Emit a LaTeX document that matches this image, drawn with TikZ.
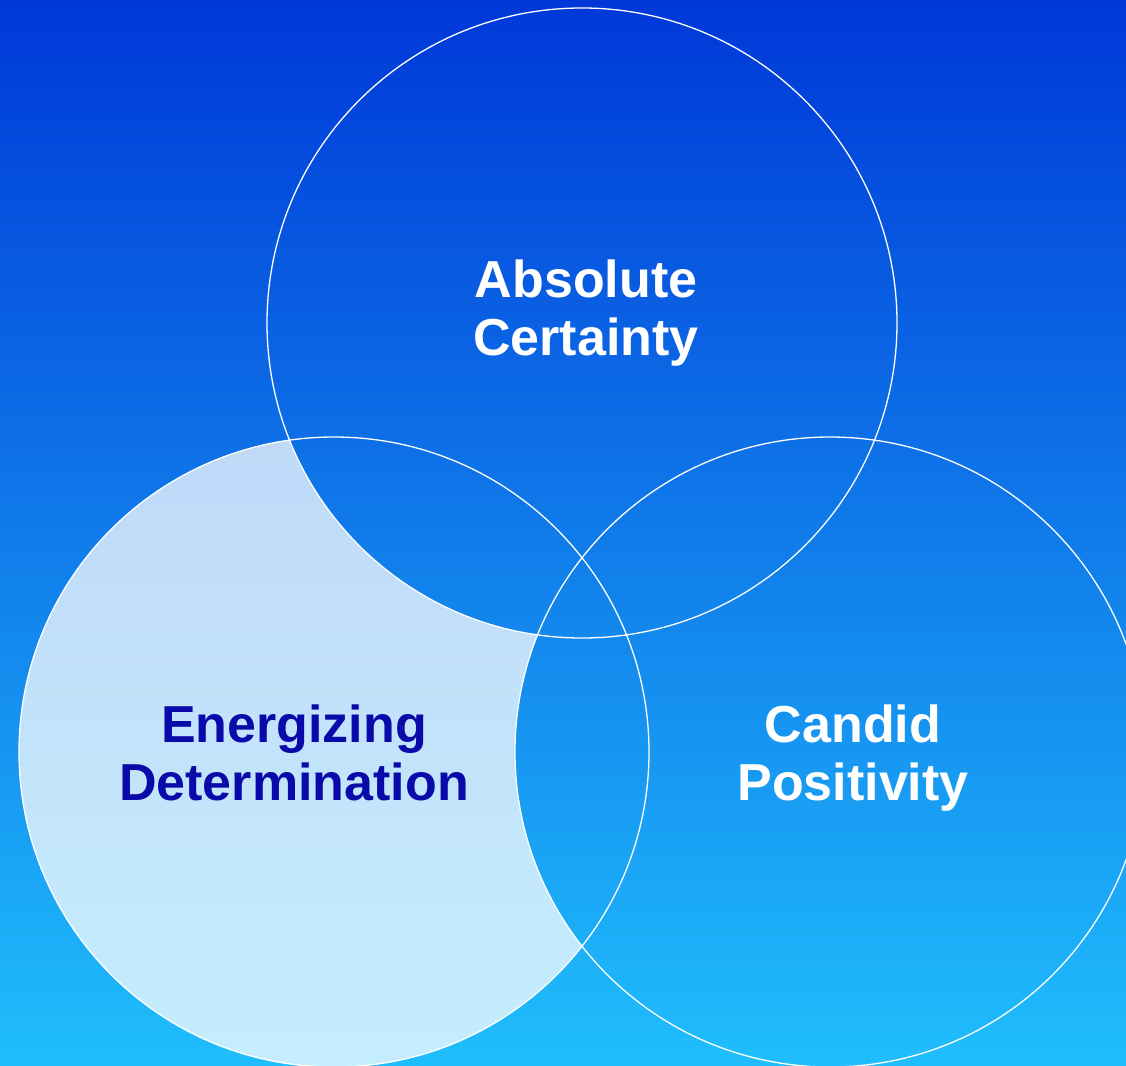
\documentclass[tikz,border=0pt]{standalone}
\usepackage{fontspec}
\setmainfont{Liberation Sans}
\definecolor{bgtop}{RGB}{0,56,216}
\definecolor{bgbottom}{RGB}{32,190,252}
\definecolor{inkblue}{RGB}{10,10,170}
\tikzset{
  ring/.style={draw=white, line width=1.3pt},
  lighttint/.style={fill=white, fill opacity=0.74},
  label/.style={anchor=base, inner sep=0pt, font=\bfseries\fontsize{52}{58}\selectfont},
  pagebg/.style={top color=bgtop, bottom color=bgbottom},
}
\begin{document}
\begin{tikzpicture}[x=1pt, y=-1pt]
  \useasboundingbox (0,0) rectangle (1126,1065);
  % background gradient
  \shade[pagebg] (0,0) rectangle (1126,1065);

  \coordinate (ctop) at (582,323);
  \coordinate (cleft) at (334,752);
  \coordinate (cright) at (830,752);

  % light tint on the left circle
  \fill[lighttint] (cleft) circle[radius=315];
  % overlaps keep the plain background
  \begin{scope}
    \clip (cleft) circle[radius=315];
    \clip (ctop) circle[radius=315];
    \shade[pagebg] (0,0) rectangle (1126,1065);
  \end{scope}
  \begin{scope}
    \clip (cleft) circle[radius=315];
    \clip (cright) circle[radius=315];
    \shade[pagebg] (0,0) rectangle (1126,1065);
  \end{scope}

  % outlines
  \draw[ring] (ctop) circle[radius=315];
  \draw[ring] (cleft) circle[radius=315];
  \draw[ring] (cright) circle[radius=315];

  % labels
  \node[label, text=white] (abs1) at (586,297) {Absolute};
  \node[label, text=white] (abs2) at (586,355) {Certainty};
  \node[label, text=inkblue] (ene1) at (294,742) {Energizing};
  \node[label, text=inkblue] (ene2) at (294,800) {Determination};
  \node[label, text=white] (can1) at (853,742) {Candid};
  \node[label, text=white] (can2) at (853,800) {Positivity};
\end{tikzpicture}
\end{document}
